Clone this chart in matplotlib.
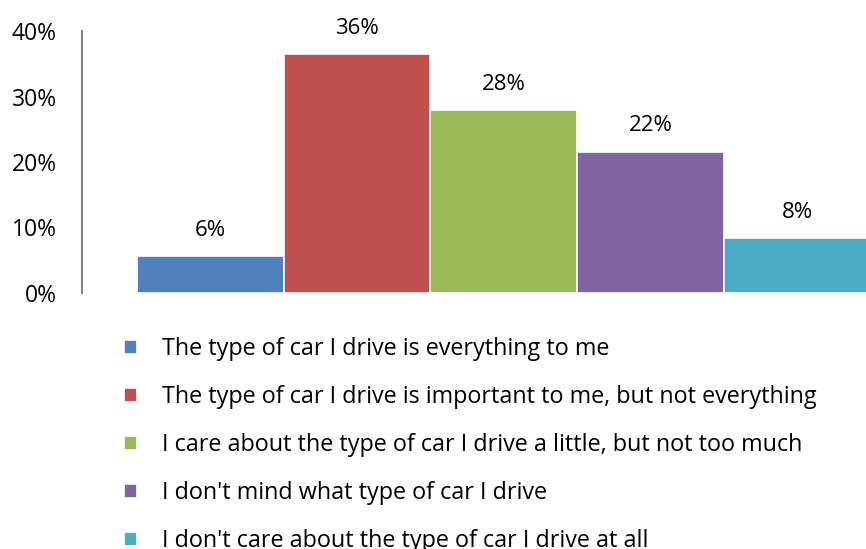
import matplotlib.pyplot as plt
from matplotlib.ticker import FuncFormatter

plt.rcParams['font.family'] = ['Open Sans', 'DejaVu Sans']

labels = ['The type of car I drive is everything to me',
          'The type of car I drive is important to me, but not everything',
          'I care about the type of car I drive a little, but not too much',
          "I don't mind what type of car I drive",
          "I don't care about the type of car I drive at all"]
values = [5.6, 36.5, 27.9, 21.6, 8.4]
colors = ['#4F81BD', '#C0504D', '#9BBB59', '#8064A2', '#4BACC6']

fig = plt.figure(figsize=(8.66, 5.49), dpi=100)
ax = fig.add_axes([82 / 866, 1 - 293 / 549, 1 - 82 / 866, (293 - 31) / 549])

pos = list(range(len(values)))
bars = list(ax.bar(pos, values, width=1.0, color=colors, edgecolor='white', linewidth=1.2))
for i, b in enumerate(bars):
    b.set_label(labels[i])
    ax.text(pos[i], values[i] + 3.9, f'{round(values[i]):.0f}%', ha='center', va='center', fontsize=16)

# faint baseline under the bars
ax.axhline(0, xmin=0.07, color='#d9d9d9', lw=1.5, zorder=0)
ax.set_xlim(-0.875, 4.47)
ax.set_ylim(0, 40)
ax.set_yticks([0, 10, 20, 30, 40])
ax.yaxis.set_major_formatter(FuncFormatter(lambda v, p: f'{v:.0f}%'))
ax.tick_params(axis='y', length=0, pad=18, labelsize=16.5)
ax.set_xticks([])
for s in ['top', 'right', 'bottom']:
    ax.spines[s].set_visible(False)
ax.spines['left'].set_color('#868686')
ax.spines['left'].set_linewidth(1.5)

fig.legend(handles=bars, loc='upper left', bbox_to_anchor=(124 / 866, 1 - 337 / 549), frameon=False,
           fontsize=16.8, handlelength=0.55, handleheight=0.55, handletextpad=1.1, labelspacing=1.03,
           borderaxespad=0, borderpad=0)

fig.savefig('out.png', dpi=100)
